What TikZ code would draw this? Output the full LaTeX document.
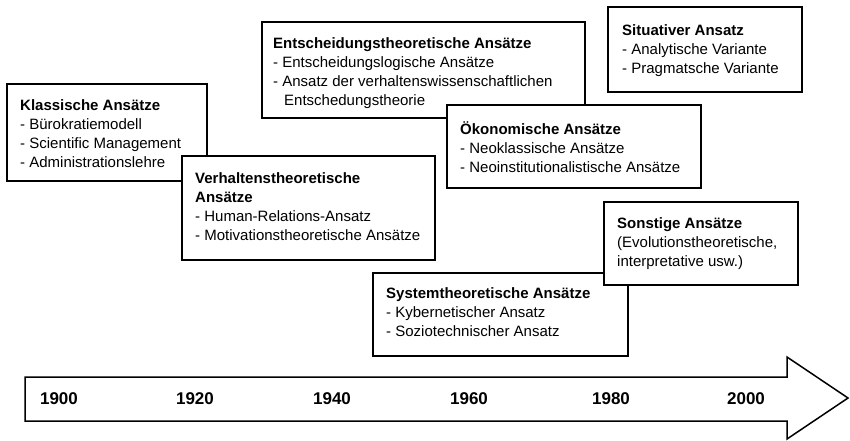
\documentclass[tikz,border=0pt]{standalone}
\usepackage{fontspec}
\setmainfont{Liberation Sans}
\begin{document}
\begin{tikzpicture}[x=1pt,y=-1pt,
  box/.style={draw=black,fill=white,line width=1.6pt},
  txt/.style={anchor=north west,inner sep=0pt,align=left,
    font=\fontsize{15}{19.3}\selectfont},
  year/.style={font=\fontsize{17}{20}\selectfont\bfseries,inner sep=0pt}]
\useasboundingbox (0,0) rectangle (850,440);
% Klassische
\draw[box] (7,84) rectangle (207,181);
\node[txt] (klass) at (20,99) {\textbf{Klassische Ansätze}\\- Bürokratiemodell\\- Scientific Management\\- Administrationslehre};
% Verhaltens
\draw[box] (182,156) rectangle (435,260);
\node[txt] (verh) at (195,172) {\textbf{Verhaltenstheoretische}\\\textbf{Ansätze}\\- Human-Relations-Ansatz\\- Motivationstheoretische Ansätze};
% Entscheidung
\draw[box] (262,22) rectangle (585,118);
\node[txt] (ents) at (273,37) {\textbf{Entscheidungstheoretische Ansätze}\\- Entscheidungslogische Ansätze\\- Ansatz der verhaltenswissenschaftlichen\\\hspace*{11pt}Entschedungstheorie};
% Oekonomische
\draw[box] (447,105) rectangle (701,188);
\node[txt] (oeko) at (460,121) {\textbf{Ökonomische Ansätze}\\- Neoklassische Ansätze\\- Neoinstitutionalistische Ansätze};
% Situativer
\draw[box] (608,7) rectangle (802,92);
\node[txt] (situ) at (622,24) {\textbf{Situativer Ansatz}\\- Analytische Variante\\- Pragmatsche Variante};
% System
\draw[box] (373,273) rectangle (628,356);
\node[txt] (syst) at (386,287) {\textbf{Systemtheoretische Ansätze}\\- Kybernetischer Ansatz\\- Soziotechnischer Ansatz};
% Sonstige
\draw[box] (604,202) rectangle (798,285);
\node[txt] (sonst) at (617,217) {\textbf{Sonstige Ansätze}\\(Evolutionstheoretische,\\interpretative usw.)};
% timeline arrow
\draw[line width=1.5pt,fill=white,line join=miter]
  (25,377) -- (787,377) -- (787,357) -- (848,398) -- (787,439) -- (787,421) -- (25,421) -- cycle;
\node[year] (y1900) at (59,399) {1900};
\node[year] (y1920) at (195,399) {1920};
\node[year] (y1940) at (332,399) {1940};
\node[year] (y1960) at (469,399) {1960};
\node[year] (y1980) at (611,399) {1980};
\node[year] (y2000) at (746,399) {2000};
\end{tikzpicture}
\end{document}
